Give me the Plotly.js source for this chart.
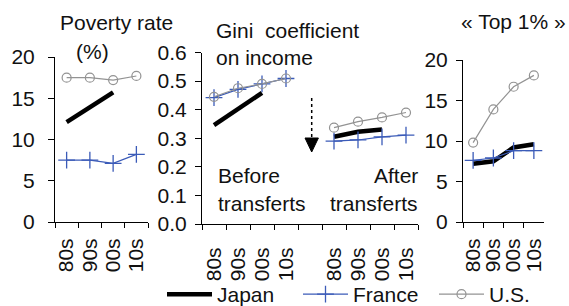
<!DOCTYPE html>
<html>
<head>
<meta charset="utf-8">
<script src="https://cdn.plot.ly/plotly-3.0.1.min.js"></script>
<style>html,body{margin:0;padding:0;background:#fff;}#chart{width:569px;height:306px;}</style>
</head>
<body>
<div id="chart"></div>
<script>
// ---- data ----
const decades = ['80s', '90s', '00s', '10s'];
const countries = ['Japan', 'France', 'U.S.'];

const povertyJapan  = [12.1, 13.9, 15.7, null];
const povertyFrance = [7.5, 7.5, 7.1, 8.2];
const povertyUS     = [17.5, 17.5, 17.2, 17.7];

const giniBeforeJapan  = [0.346, 0.402, 0.459, null];
const giniBeforeFrance = [0.442, 0.471, 0.490, 0.509];
const giniBeforeUS     = [0.445, 0.475, 0.490, 0.509];

const giniAfterJapan  = [0.305, 0.323, 0.331, null];
const giniAfterFrance = [0.290, 0.294, 0.305, 0.311];
const giniAfterUS     = [0.337, 0.358, 0.373, 0.390];

const top1Japan  = [7.2, 7.5, 9.2, 9.6];
const top1France = [7.6, 7.9, 8.8, 8.8];
const top1US     = [9.8, 13.9, 16.7, 18.1];

// ---- styles ----
const W = 569, H = 306;
const FONT = 'Liberation Sans, Arial, sans-serif';
const TXT = '#111111';
const styles = {
  'Japan':  {line: {color: '#000000', width: 4.5}, mode: 'lines'},
  'France': {line: {color: '#3b5bb8', width: 1.2}, mode: 'lines+markers',
             marker: {symbol: 'cross-thin-open', size: 12, line: {color: '#3b5bb8', width: 1.3}}},
  'U.S.':   {line: {color: '#939393', width: 1.2}, mode: 'lines+markers',
             marker: {symbol: 'circle-open', size: 9, color: '#939393', line: {color: '#939393', width: 1.2}}}
};

// Gini panel: positions 0-3 = before transfers, 4 = gap, 5-8 = after transfers
const nDec = decades.length;
const giniX = decades.map((d, i) => i).concat([nDec], decades.map((d, i) => i + nDec + 1));
const giniLabelVals = decades.map((d, i) => i).concat(decades.map((d, i) => i + nDec + 1));
const giniLabels = decades.concat(decades);
const join = (a, b) => a.concat([null], b);

const series = [
  ['Japan',  povertyJapan,  giniBeforeJapan,  giniAfterJapan,  top1Japan],
  ['France', povertyFrance, giniBeforeFrance, giniAfterFrance, top1France],
  ['U.S.',   povertyUS,     giniBeforeUS,     giniAfterUS,     top1US]
];

const traces = [];
series.forEach(([name, pov, gb, ga, top]) => {
  const s = styles[name];
  traces.push(Object.assign({type: 'scatter', name: name, x: decades, y: pov, xaxis: 'x', yaxis: 'y', showlegend: true, legendgroup: name}, s));
  traces.push(Object.assign({type: 'scatter', name: name, x: giniX, y: join(gb, ga), xaxis: 'x2', yaxis: 'y2', showlegend: false, legendgroup: name}, s));
  traces.push(Object.assign({type: 'scatter', name: name, x: decades, y: top, xaxis: 'x3', yaxis: 'y3', showlegend: false, legendgroup: name}, s));
});

// ---- layout ----
const px = v => v / W;
const py = v => (H - v) / H;

const xBase = {
  type: 'category', tickmode: 'linear', tick0: 0, dtick: 1, tickson: 'boundaries',
  ticks: 'outside', ticklen: 5, tickwidth: 1, tickcolor: '#000',
  showline: true, linecolor: '#000', linewidth: 1, showgrid: false, zeroline: false,
  tickangle: -90, ticklabelstandoff: 7, tickfont: {family: FONT, size: 21, color: TXT}, fixedrange: true
};
const yBase = {
  ticks: 'outside', ticklen: 6, tickwidth: 1, tickcolor: '#000',
  showline: true, linecolor: '#000', linewidth: 1, showgrid: false, zeroline: false,
  tickfont: {family: FONT, size: 21, color: TXT}, fixedrange: true
};

const ann = (text, x, y, xanchor) => ({
  text: text, xref: 'paper', yref: 'paper', x: px(x), y: py(y),
  xanchor: xanchor, yanchor: 'middle', showarrow: false,
  font: {family: FONT, size: 21, color: TXT}, borderpad: 0
});

const layout = {
  width: W, height: H,
  margin: {l: 0, r: 0, t: 0, b: 0, pad: 0, autoexpand: false},
  paper_bgcolor: '#fff', plot_bgcolor: '#fff',
  font: {family: FONT, size: 21, color: TXT},
  xaxis:  Object.assign({}, xBase, {domain: [px(55), px(148)], anchor: 'y', range: [-0.5, 3.5]}),
  yaxis:  Object.assign({}, yBase, {domain: [py(222), py(57)], anchor: 'x', range: [0, 20], dtick: 5, tick0: 0, ticklabelstandoff: 9}),
  // Gini x axis: labels centred on decades, minor ticks on the boundaries
  xaxis2: {type: 'linear', domain: [px(202), px(418)], anchor: 'y2', range: [-0.5, 2 * nDec + 0.5],
           tickmode: 'array', tickvals: giniLabelVals, ticktext: giniLabels, ticks: '',
           minor: {tickmode: 'linear', tick0: -0.5, dtick: 1, ticks: 'outside', ticklen: 5, tickwidth: 1, tickcolor: '#000', showgrid: false},
           tickangle: -90, ticklabelstandoff: 14, tickfont: {family: FONT, size: 21, color: TXT},
           showline: true, linecolor: '#000', linewidth: 1, showgrid: false, zeroline: false, fixedrange: true},
  yaxis2: Object.assign({}, yBase, {domain: [py(224), py(52.5)], anchor: 'x2', range: [0, 0.6], dtick: 0.1, tick0: 0, tickformat: '.1f', ticklabelstandoff: 4}),
  xaxis3: Object.assign({}, xBase, {domain: [px(463), px(544)], anchor: 'y3', range: [-0.5, 3.5]}),
  yaxis3: Object.assign({}, yBase, {domain: [py(222), py(60)], anchor: 'x3', range: [0, 20], dtick: 5, tick0: 0, ticklabelstandoff: 4}),
  showlegend: true,
  legend: {
    orientation: 'h', x: px(162), y: py(315), xanchor: 'left', yanchor: 'bottom',
    font: {family: FONT, size: 21, color: TXT}, bgcolor: 'rgba(0,0,0,0)',
    itemwidth: 45, entrywidth: 76, entrywidthmode: 'pixels', tracegroupgap: 0, traceorder: 'normal'
  },
  annotations: [
    ann('Poverty rate', 117, 23, 'center'),
    ann('(%)', 93, 52, 'center'),
    ann('Gini\u00a0 coefficient', 215, 31, 'left'),
    ann('on income', 215, 57, 'left'),
    ann('Before', 217, 175, 'left'),
    ann('transferts', 217, 203, 'left'),
    ann('After', 419, 175, 'right'),
    ann('transferts', 419, 203, 'right'),
    ann('\u00ab Top 1% \u00bb', 513, 22, 'center')
  ],
  shapes: [
    {type: 'line', xref: 'paper', yref: 'paper', x0: px(311.7), x1: px(311.7), y0: py(98), y1: py(139),
     line: {color: '#000', width: 1.5, dash: 'dot'}},
    {type: 'path', xref: 'paper', yref: 'paper',
     path: 'M ' + px(305) + ' ' + py(138) + ' L ' + px(318.4) + ' ' + py(138) + ' L ' + px(311.7) + ' ' + py(152) + ' Z',
     fillcolor: '#000', line: {color: '#000', width: 1}}
  ]
};

Plotly.newPlot('chart', traces, layout, {staticPlot: true, displayModeBar: false});
</script>
</body>
</html>
